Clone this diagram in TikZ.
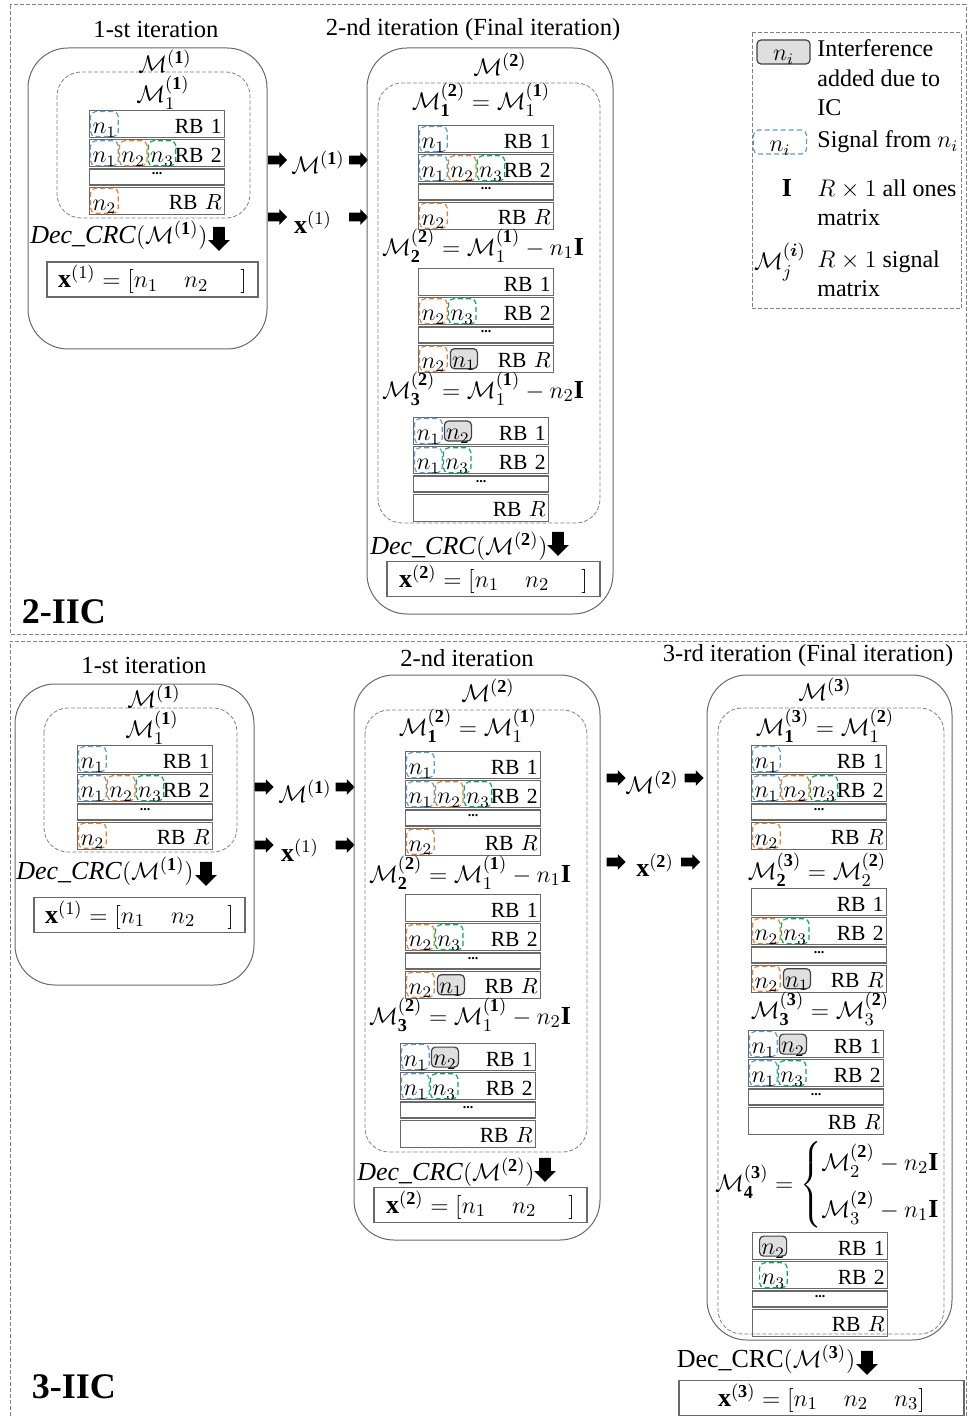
\documentclass[tikz,border=0pt]{standalone}
\usepackage{fontspec}
\setmainfont{Liberation Serif}
\usepackage{amsmath}
\usetikzlibrary{positioning,shapes.arrows}

\definecolor{sigblue}{RGB}{91,155,213}
\definecolor{sigorange}{RGB}{237,125,49}
\definecolor{siggreen}{RGB}{0,176,80}
\definecolor{linegray}{RGB}{105,105,105}

\newcommand{\Mc}{\mathcal{M}}
\newcommand{\bsup}[1]{^{\mathbf{(#1)}}}
% one R x 1 signal matrix: name, left, top
\newcommand{\rbmat}[3]{%
  \node[rbrow] (#1-1) at (#2,#3) {RB 1};
  \node[rbrow, below right=0.5pt and 0pt of #1-1.south west] (#1-2) {RB 2};
  \node[rbdots, below right=0.5pt and 0pt of #1-2.south west] (#1-d) {...};
  \node[rbrow, below right=0.5pt and 0pt of #1-d.south west] (#1-R) {RB $R$};
}

\begin{document}
\begin{tikzpicture}[
        x=0.5pt, y=-0.5pt,
        every node/.style={font=\fontsize{12}{14.75}\selectfont},
        casebox/.style={draw=gray, dash pattern=on 2pt off 1pt, line width=0.5pt},
        outerbox/.style={draw=linegray, line width=0.5pt, rounded corners=20pt},
        innerbox/.style={draw=gray, dash pattern=on 2pt off 1pt, line width=0.4pt, rounded corners=12pt},
        rbrow/.style={draw=linegray, line width=0.6pt, anchor=north west, minimum height=13.5pt, text width=64.5pt, inner xsep=1.5pt, inner ysep=0pt, align=right, text height=9pt, text depth=0pt, font=\fontsize{10.8}{13}\selectfont},
        rbdots/.style={draw=linegray, line width=0.6pt, anchor=north west, minimum width=67.5pt, minimum height=8pt, inner sep=0pt, text height=1pt, text depth=3pt, font=\scriptsize\bfseries},
        sig/.style={draw=#1, dash pattern=on 2.5pt off 1.5pt, line width=0.6pt, rounded corners=2.5pt, minimum width=13.8pt, minimum height=12.5pt, inner sep=0pt, text height=9.5pt, text depth=0pt},
        icbox/.style={draw=black!75, fill=gray!25, line width=0.6pt, rounded corners=2pt, minimum width=13.5pt, minimum height=10pt, inner sep=0pt, text height=8.5pt, text depth=0pt},
        eqn/.style={font=\fontsize{13}{15}\selectfont, inner sep=0pt},
        itertitle/.style={font=\fontsize{12.3}{14}\selectfont, inner sep=0pt},
        caselabel/.style={font=\fontsize{18}{20}\selectfont\bfseries, inner sep=0pt},
        xbox/.style={draw=linegray, line width=0.8pt, minimum height=17.5pt, inner sep=0pt, font=\fontsize{13}{15}\selectfont},
        rarrow/.style={single arrow, fill=black, minimum height=9.5pt, inner sep=2pt, single arrow head extend=1.75pt},
        darrow/.style={single arrow, fill=black, minimum height=12pt, inner sep=2.75pt, single arrow head extend=2.5pt, shape border rotate=270},
        lgtext/.style={anchor=west, align=left, inner sep=0pt}
    ]
    \useasboundingbox (0,0) rectangle (968,1416);

    % ---------------- 2-IIC ----------------
    \draw[casebox] (10,5) rectangle (966,634);
    \node[caselabel] (iic2) at (64,612) {2-IIC};

    % 1-st iteration
    \node[itertitle] (t1title) at (156,29) {1-st iteration};
    \draw[outerbox] (28,48) rectangle (267,349);
    \draw[innerbox] (57,72) rectangle (250,218);
    \node[eqn] (t1M) at (165,61) {$\Mc\bsup{1}$};
    \node[eqn] (t1M1) at (163,93) {$\Mc_1\bsup{1}$};
    \rbmat{t1a}{89}{110}
    \node[eqn] (t1dec) at (119,235) {\textit{Dec\_CRC}$(\Mc\bsup{1})$};
    \node[darrow] (t1down) at (219,236) {};
    \node[xbox, minimum width=105.5pt] (t1x) at (152.5,279.5) {$\mathbf{x}^{(1)} = [n_1\quad n_2\hspace{16pt}]$};

    % hand over
    \node[rarrow] (tar1) at (275.5,160) {};
    \node[eqn] (tMlab) at (318,162) {$\Mc\bsup{1}$};
    \node[rarrow] (tar2) at (356.5,160) {};
    \node[rarrow] (tar3) at (275.5,217) {};
    \node[eqn] (txlab) at (313,222) {$\mathbf{x}^{(1)}$};
    \node[rarrow] (tar4) at (356.5,217) {};

    % 2-nd iteration
    \node[itertitle] (t2title) at (473,30) {2-nd iteration (Final iteration)};
    \draw[outerbox] (367,48) rectangle (613,614);
    \draw[innerbox] (378,83) rectangle (600,523);
    \node[eqn] (t2M) at (500,64) {$\Mc\bsup{2}$};
    \node[eqn] (t2M1) at (481,100) {$\Mc_{\mathbf{1}}\bsup{2} = \Mc_1\bsup{1}$};
    \rbmat{t2a}{418}{125}
    \node[eqn] (t2M2) at (483,246) {$\Mc_{\mathbf{2}}\bsup{2} = \Mc_1\bsup{1} - n_1\mathbf{I}$};
    \rbmat{t2b}{418}{268}
    \node[eqn] (t2M3) at (483,389) {$\Mc_{\mathbf{3}}\bsup{2} = \Mc_1\bsup{1} - n_2\mathbf{I}$};
    \rbmat{t2c}{413}{417}
    \node[eqn] (t2dec) at (459,546) {\textit{Dec\_CRC}$(\Mc\bsup{2})$};
    \node[darrow] (t2down) at (558,541) {};
    \node[xbox, minimum width=106.5pt] (t2x) at (493.5,579) {$\mathbf{x}\bsup{2} = [n_1\quad n_2\hspace{16pt}]$};

    % legend
    \draw[casebox] (752,33) rectangle (961,309);
    \node[icbox, minimum width=26.5pt, minimum height=12pt] (lg1) at (783.5,52) {$n_i$};
    \node[lgtext] (lg1t) at (817,78) {Interference\\added due to\\IC};
    \node[sig=sigblue, minimum width=26.5pt, minimum height=12pt] (lg2) at (780,142) {$n_i$};
    \node[lgtext] (lg2t) at (817,142) {Signal from $n_i$};
    \node[eqn] (lg3) at (787,188) {$\mathbf{I}$};
    \node[lgtext] (lg3t) at (817,203) {$R\times 1$ all ones\\matrix};
    \node[eqn] (lg4) at (780,262) {$\Mc_j^{\mathbf{(}\boldsymbol{i}\mathbf{)}}$};
    \node[lgtext] (lg4t) at (817,274) {$R\times 1$ signal\\matrix};

    % ---------------- 3-IIC ----------------
    \draw[casebox] (10,1416) -- (10,641) -- (966,641) -- (966,1416);
    \node[caselabel] (iic3) at (74,1387) {3-IIC};

    % 1-st iteration
    \node[itertitle] (b1title) at (144,665) {1-st iteration};
    \draw[outerbox] (15,684) rectangle (254,985);
    \draw[innerbox] (44,708) rectangle (237,852);
    \node[eqn] (b1M) at (154,696) {$\Mc\bsup{1}$};
    \node[eqn] (b1M1) at (152,728) {$\Mc_1\bsup{1}$};
    \rbmat{b1a}{77}{745}
    \node[eqn] (b1dec) at (105,871) {\textit{Dec\_CRC}$(\Mc\bsup{1})$};
    \node[darrow] (b1down) at (206,871) {};
    \node[xbox, minimum width=105.5pt] (b1x) at (139.5,915) {$\mathbf{x}^{(1)} = [n_1\quad n_2\hspace{16pt}]$};

    % hand over
    \node[rarrow] (bar1) at (262,787) {};
    \node[eqn] (bMlab1) at (305,791) {$\Mc\bsup{1}$};
    \node[rarrow] (bar2) at (343,787) {};
    \node[rarrow] (bar3) at (262,845) {};
    \node[eqn] (bxlab1) at (300,850) {$\mathbf{x}^{(1)}$};
    \node[rarrow] (bar4) at (343,845) {};

    % 2-nd iteration
    \node[itertitle] (b2title) at (467,658) {2-nd iteration};
    \draw[outerbox] (354,675) rectangle (600,1240);
    \draw[innerbox] (365,710) rectangle (587,1152);
    \node[eqn] (b2M) at (488,690) {$\Mc\bsup{2}$};
    \node[eqn] (b2M1) at (468,726) {$\Mc_{\mathbf{1}}\bsup{2} = \Mc_1\bsup{1}$};
    \rbmat{b2a}{405}{751}
    \node[eqn] (b2M2) at (470,873) {$\Mc_{\mathbf{2}}\bsup{2} = \Mc_1\bsup{1} - n_1\mathbf{I}$};
    \rbmat{b2b}{405}{894}
    \node[eqn] (b2M3) at (470,1015) {$\Mc_{\mathbf{3}}\bsup{2} = \Mc_1\bsup{1} - n_2\mathbf{I}$};
    \rbmat{b2c}{400}{1043}
    \node[eqn] (b2dec) at (446,1172) {\textit{Dec\_CRC}$(\Mc\bsup{2})$};
    \node[darrow] (b2down) at (545,1167) {};
    \node[xbox, minimum width=106.5pt] (b2x) at (480.5,1205) {$\mathbf{x}\bsup{2} = [n_1\quad n_2\hspace{16pt}]$};

    % hand over
    \node[rarrow] (bar5) at (614,778) {};
    \node[eqn] (bMlab2) at (652,782) {$\Mc\bsup{2}$};
    \node[rarrow] (bar6) at (692,778) {};
    \node[rarrow] (bar7) at (614,862) {};
    \node[eqn] (bxlab2) at (655,865) {$\mathbf{x}\bsup{2}$};
    \node[rarrow] (bar8) at (688.5,862) {};

    % 3-rd iteration
    \node[itertitle] (b3title) at (808,656) {3-rd iteration (Final iteration)};
    \draw[outerbox] (707,675) rectangle (952,1340);
    \draw[innerbox] (718,708) rectangle (944,1334);
    \node[eqn] (b3M) at (825,689) {$\Mc\bsup{3}$};
    \node[eqn] (b3M1) at (825,726) {$\Mc_{\mathbf{1}}\bsup{3} = \Mc_1\bsup{2}$};
    \rbmat{b3a}{751}{745}
    \node[eqn] (b3M2) at (817,870) {$\Mc_{\mathbf{2}}\bsup{3} = \Mc_2\bsup{2}$};
    \rbmat{b3b}{751}{888}
    \node[eqn] (b3M3) at (820,1009) {$\Mc_{\mathbf{3}}\bsup{3} = \Mc_3\bsup{2}$};
    \rbmat{b3c}{748}{1030}
    \node[eqn] (b3M4) at (828,1185) {$\Mc_{\mathbf{4}}\bsup{3} = \left\{\begin{array}{@{}l@{}}
        \Mc_2\bsup{2} - n_2\mathbf{I}\\[6pt]
        \Mc_3\bsup{2} - n_1\mathbf{I}
      \end{array}\right.$};
    \rbmat{b3d}{752}{1232}
    \node[eqn] (b3dec) at (766,1359) {Dec\_CRC$(\Mc\bsup{3})$};
    \node[darrow] (b3down) at (867,1360) {};
    \node[xbox, minimum width=142.5pt] (b3x) at (821.5,1398) {$\mathbf{x}\bsup{3} = [n_1\quad n_2\quad n_3]$};

    % signals inside the matrices
    \foreach \m in {t1a,t2a,b1a,b2a,b3a}{
      \node[sig=sigblue, right=0.5pt of \m-1.west] (\m-1a) {$n_1$};
      \node[sig=sigblue, right=0.5pt of \m-2.west] (\m-2a) {$n_1$};
      \node[sig=sigorange, right=0pt of \m-2a] (\m-2b) {$n_2$};
      \node[sig=siggreen, right=0pt of \m-2b] (\m-2c) {$n_3$};
      \node[sig=sigorange, right=0.5pt of \m-R.west] (\m-Ra) {$n_2$};
    }
    \foreach \m in {t2b,b2b,b3b}{
      \node[sig=sigorange, right=0.5pt of \m-2.west] (\m-2a) {$n_2$};
      \node[sig=siggreen, right=0pt of \m-2a] (\m-2b) {$n_3$};
      \node[sig=sigorange, right=0.5pt of \m-R.west] (\m-Ra) {$n_2$};
      \node[icbox, right=1pt of \m-Ra] (\m-Rb) {$n_1$};
    }
    \foreach \m in {t2c,b2c,b3c}{
      \node[sig=sigblue, right=0.5pt of \m-1.west] (\m-1a) {$n_1$};
      \node[icbox, right=0.5pt of \m-1a] (\m-1b) {$n_2$};
      \node[sig=sigblue, right=0.5pt of \m-2.west] (\m-2a) {$n_1$};
      \node[sig=siggreen, right=0pt of \m-2a] (\m-2b) {$n_3$};
    }
    \node[icbox, right=3.5pt of b3d-1.west] (b3d-1a) {$n_2$};
    \node[sig=siggreen, right=3.5pt of b3d-2.west] (b3d-2a) {$n_3$};

\end{tikzpicture}
\end{document}
